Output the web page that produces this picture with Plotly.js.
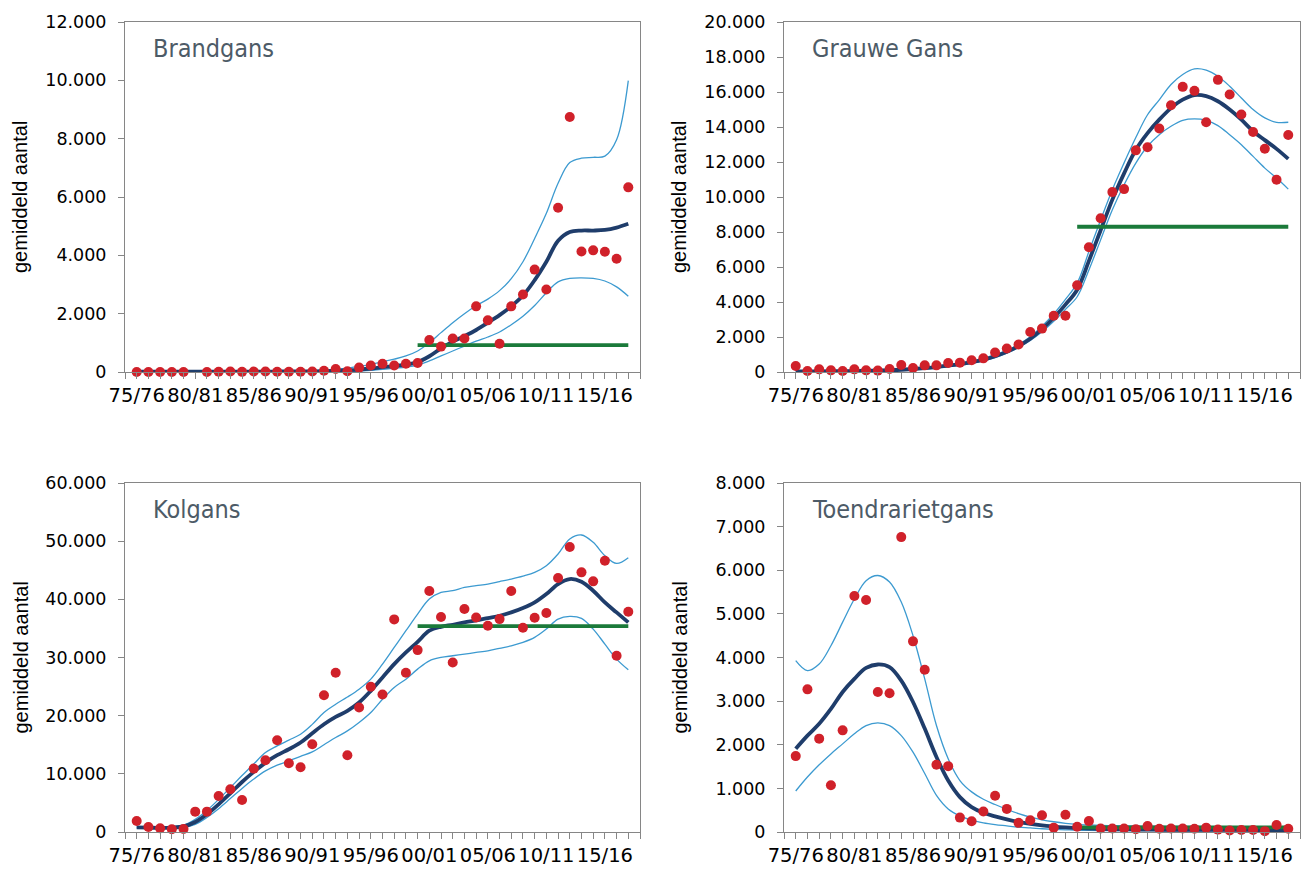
<!DOCTYPE html>
<html>
<head>
<meta charset="utf-8">
<script src="https://cdn.plot.ly/plotly-3.0.1.min.js"></script>
<style>html,body{margin:0;padding:0;background:#fff;}#chart{width:1303px;height:870px;}</style>
</head>
<body>
<div id="chart"></div>
<script>
// ---------- DATA ----------
const seasons = ['75/76','76/77','77/78','78/79','79/80','80/81','81/82','82/83','83/84','84/85',
  '85/86','86/87','87/88','88/89','89/90','90/91','91/92','92/93','93/94','94/95',
  '95/96','96/97','97/98','98/99','99/00','00/01','01/02','02/03','03/04','04/05',
  '05/06','06/07','07/08','08/09','09/10','10/11','11/12','12/13','13/14','14/15',
  '15/16','16/17','17/18'];
const labelEvery = 5;
const refStart = '99/00';

// Brandgans
const brandPoints = [0,0,0,0,0,null,0,10,20,5,20,20,10,10,10,20,40,100,25,150,220,280,220,280,310,
  1100,870,1150,1150,2250,1770,970,2250,2660,3510,2830,5630,8740,4130,4170,4120,3880,6330];
const brandTrend = [10,10,10,10,10,10,10,10,10,10,12,14,16,18,19,20,30,45,60,85,120,165,205,250,340,
  540,810,1040,1230,1440,1690,1950,2250,2620,3150,3780,4500,4800,4850,4850,4870,4950,5080];
const brandUpper = [20,20,20,20,20,20,20,20,20,20,22,24,26,28,32,40,60,90,130,190,260,350,440,550,720,
  1000,1350,1690,2000,2270,2500,2790,3200,3780,4580,5440,6470,7180,7330,7360,7400,7960,9990];
const brandLower = [0,0,0,0,0,0,0,0,0,0,0,0,0,0,0,0,0,2,10,30,60,90,130,170,240,
  380,550,720,890,1060,1200,1370,1620,1910,2280,2720,3090,3210,3230,3210,3120,2920,2600];
const brandRef = 920;

// Grauwe Gans
const grauwPoints = [340,60,150,95,60,150,95,80,170,400,230,380,380,515,535,670,780,1110,1340,1570,2290,2480,3210,3210,4950,
  7125,8790,10280,10450,12665,12840,13910,15245,16295,16065,14270,16695,15855,14710,13715,12760,10985,13545];
const grauwTrend = [30,35,40,45,50,60,70,85,100,130,170,220,280,360,450,560,700,900,1150,1480,1900,2450,3100,3850,4700,
  6350,8100,9850,11350,12700,13650,14420,15080,15560,15820,15760,15470,15000,14420,13760,13250,12750,12180];
const grauwUpper = [60,65,70,75,80,90,100,115,130,165,210,265,330,415,510,630,780,990,1240,1580,2020,2620,3320,4150,5080,
  6880,8690,10420,11950,13400,14700,15550,16430,17000,17320,17250,16900,16330,15660,15000,14520,14270,14270];
const grauwLower = [10,15,20,25,30,40,50,60,75,100,135,180,235,310,395,500,630,820,1070,1400,1800,2300,2900,3580,4300,
  5830,7550,9270,10700,11940,12900,13560,14040,14380,14460,14380,14080,13560,12990,12320,11650,11080,10450];
const grauwRef = 8300;

// Kolgans
const kolPoints = [1890,860,630,460,520,3500,3500,6200,7340,5510,10900,12335,15780,11820,11130,15090,23520,27370,13200,21400,24960,23640,36550,27370,31270,
  41420,36950,29150,38330,36890,35460,36600,41420,35110,36830,37640,43660,49000,44640,43090,46640,30290,37870];
const kolTrend = [800,750,700,750,950,1720,3040,4760,6650,8600,10330,11930,13200,14230,15380,16980,18530,19790,20830,22260,24270,26560,28860,30870,32700,
  34600,35280,35630,36030,36370,36780,37180,37750,38500,39470,40900,42630,43490,43030,41480,39470,37750,36030];
const kolUpper = [900,850,800,900,1150,2180,3700,5600,7630,9700,11700,13650,14800,15800,16800,18500,20540,21970,23200,24550,26280,28860,31730,34600,37460,
  40040,41190,41480,42050,42350,42630,43050,43490,44000,44640,45780,47790,50370,51060,49800,47500,46180,47160];
const kolLower = [700,650,600,650,800,1320,2500,4000,5740,7500,9100,10500,11500,12220,13000,13770,15000,16240,17380,18820,20540,22830,24840,26280,28000,
  29430,30010,30300,30580,30870,31150,31580,32010,32590,33450,34880,36600,37060,36720,34880,32300,29720,27880];
const kolRef = 35400;

// Toendrarietgans
const toenPoints = [1740,3270,2140,1070,2330,5410,5320,3210,3180,6760,4370,3720,1540,1510,330,245,470,830,530,210,270,385,100,395,120,
  250,80,80,80,65,135,75,80,80,75,100,55,35,45,45,20,160,75];
const toenTrend = [1910,2210,2480,2820,3210,3510,3760,3840,3780,3470,2980,2370,1720,1180,800,570,440,360,290,230,185,150,125,105,90,
  80,70,65,60,58,55,53,50,50,49,48,48,47,47,46,46,45,45];
const toenUpper = [3930,3700,3850,4270,4810,5340,5760,5880,5730,5270,4500,3510,2440,1680,1180,920,750,630,520,420,340,280,235,200,175,
  160,150,145,140,138,135,132,130,128,126,125,124,123,122,121,120,120,120];
const toenLower = [940,1260,1540,1790,2020,2250,2440,2500,2440,2210,1830,1340,840,530,370,270,210,170,140,110,95,75,60,50,40,
  35,33,32,31,30,30,29,29,28,28,27,27,26,26,25,25,25,25];
const toenRef = 107;

const speciesNames = ['Brandgans','Grauwe Gans','Kolgans','Toendrarietgans'];
const yMax = [12000, 20000, 60000, 8000];
const yStep = [2000, 2000, 10000, 1000];
const yTitle = 'gemiddeld aantal';

// ---------- STYLE ----------
const W = 1303, H = 870;
const colPx = [[125, 640], [784, 1300]];
const rowPx = [[22, 372], [483, 832]];
const yTickFont = {family: '"DejaVu Sans", sans-serif', size: 17.5, color: '#000'};
const xTickFont = {family: '"DejaVu Sans", sans-serif', size: 19.5, color: '#000'};
const axisColor = '#868686';
const cPoint = '#d0212a', cTrend = '#1f3d6b', cCI = '#3c9ad0', cRef = '#1b7a3a';

const xIdx = seasons.map((s, i) => i);
const tickVals = [], tickText = [];
for (let v = -1; v <= seasons.length; v++) {
  tickVals.push(v);
  tickText.push(v >= 0 && v < seasons.length && v % labelEvery === 0 && v <= 40 ? seasons[v] : '');
}
const refIdx = seasons.indexOf(refStart);

const panels = [
  {pts: brandPoints, tr: brandTrend, up: brandUpper, lo: brandLower, ref: brandRef},
  {pts: grauwPoints, tr: grauwTrend, up: grauwUpper, lo: grauwLower, ref: grauwRef},
  {pts: kolPoints, tr: kolTrend, up: kolUpper, lo: kolLower, ref: kolRef},
  {pts: toenPoints, tr: toenTrend, up: toenUpper, lo: toenLower, ref: toenRef}
];

const traces = [];
const layout = {
  width: W, height: H,
  margin: {l: 0, r: 0, t: 0, b: 0},
  paper_bgcolor: '#fff', plot_bgcolor: '#fff',
  showlegend: false,
  separators: ',.',
  annotations: []
};

panels.forEach((p, k) => {
  const col = k % 2, row = Math.floor(k / 2);
  const sfx = k === 0 ? '' : String(k + 1);
  const xa = 'x' + sfx, ya = 'y' + sfx;
  const xd = [colPx[col][0] / W, colPx[col][1] / W];
  const yd = [1 - rowPx[row][1] / H, 1 - rowPx[row][0] / H];

  const refX = xIdx.slice(refIdx);
  const refY = refX.map(() => p.ref);

  traces.push({x: xIdx, y: p.up, xaxis: xa, yaxis: ya, type: 'scatter', mode: 'lines',
    line: {color: cCI, width: 1.3, shape: 'spline', smoothing: 1}, hoverinfo: 'skip'});
  traces.push({x: xIdx, y: p.lo, xaxis: xa, yaxis: ya, type: 'scatter', mode: 'lines',
    line: {color: cCI, width: 1.3, shape: 'spline', smoothing: 1}, hoverinfo: 'skip'});
  traces.push({x: xIdx, y: p.tr, xaxis: xa, yaxis: ya, type: 'scatter', mode: 'lines',
    line: {color: cTrend, width: 3.8, shape: 'spline', smoothing: 1}});
  traces.push({x: refX, y: refY, xaxis: xa, yaxis: ya, type: 'scatter', mode: 'lines',
    line: {color: cRef, width: 3.8}});
  traces.push({x: xIdx, y: p.pts, xaxis: xa, yaxis: ya, type: 'scatter', mode: 'markers',
    marker: {color: cPoint, size: 10}, cliponaxis: false});

  layout['xaxis' + sfx] = {
    domain: xd, anchor: ya, range: [-1, seasons.length],
    tickmode: 'array', tickvals: tickVals, ticktext: tickText,
    ticks: 'outside', ticklen: 6, tickcolor: axisColor, tickwidth: 1,
    showline: true, linecolor: axisColor, linewidth: 1, mirror: true,
    showgrid: false, zeroline: false, tickfont: xTickFont, tickangle: 0
  };
  layout['yaxis' + sfx] = {
    domain: yd, anchor: xa, range: [0, yMax[k]],
    tickmode: 'linear', tick0: 0, dtick: yStep[k], tickformat: ',.0f',
    ticks: 'outside', ticklen: 6, tickcolor: axisColor, tickwidth: 1,
    showline: true, linecolor: axisColor, linewidth: 1, mirror: true,
    showgrid: false, zeroline: false, tickfont: yTickFont, ticklabelstandoff: 8
  };

  // species name
  layout.annotations.push({
    xref: 'paper', yref: 'paper', x: (colPx[col][0] + 26) / W, y: 1 - (rowPx[row][0] + 27) / H,
    xanchor: 'left', yanchor: 'middle', showarrow: false, text: speciesNames[k],
    font: {family: '"DejaVu Sans Condensed", "DejaVu Sans", sans-serif', size: 25, color: '#4d5b67'}
  });
  // y title
  layout.annotations.push({
    xref: 'paper', yref: 'paper', x: (colPx[col][0] - 105) / W, y: (yd[0] + yd[1]) / 2,
    xanchor: 'center', yanchor: 'middle', showarrow: false, textangle: -90, text: yTitle,
    font: {family: '"Liberation Sans", Arial, sans-serif', size: 20, color: '#000'}
  });
});

Plotly.newPlot('chart', traces, layout, {displayModeBar: false, staticPlot: true});
</script>
</body>
</html>
